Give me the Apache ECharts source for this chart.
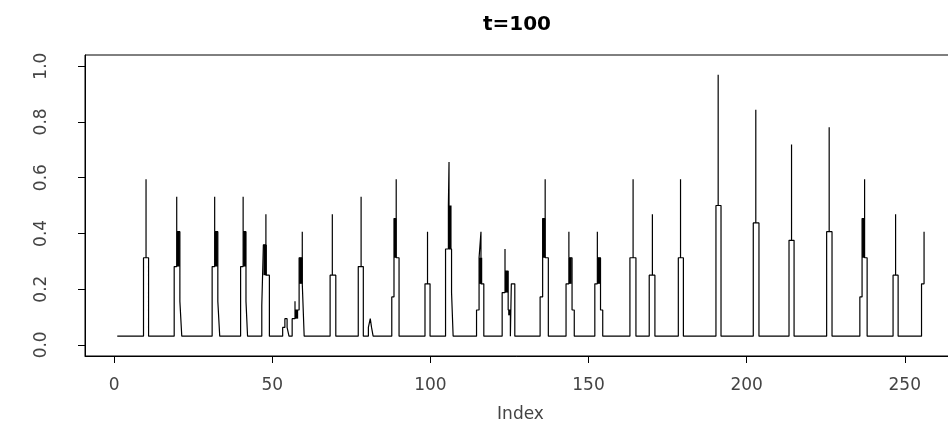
<!DOCTYPE html>
<html>
<head>
<meta charset="utf-8">
<script src="https://cdn.jsdelivr.net/npm/echarts@6/dist/echarts.min.js"></script>
<style>
  html, body { margin: 0; padding: 0; background: #fff; }
  #chart { width: 948px; height: 430px; }
</style>
</head>
<body>
<div id="chart"></div>
<script>
// Step trace at t=100: each vertex is (Index, level held from that Index onward)
const baseLevel = 0.031;
const stepIndex = [
  1,
  9.3, 10.1, 10.1, 10.9,
  19.0, 19.8, 19.8, 20.8, 21.4,
  31.0, 31.8, 31.8, 32.8, 33.4,
  40.0, 40.8, 40.8, 41.7, 42.2,
  46.7, 47.2, 48.0, 48.0, 49.1,
  53.3, 54.0, 54.7, 55.3,
  56.3, 57.2, 57.2, 58.5, 59.5, 59.5, 60.1,
  68.3, 69.0, 69.0, 70.1,
  77.2, 78.1, 78.1, 78.8,
  80.4, 81.0, 81.4, 81.9,
  87.8, 88.5, 89.2, 89.2, 90.1,
  98.3, 99.1, 99.1, 99.9,
  104.8, 105.7, 105.9, 105.9, 106.7, 107.2,
  114.6, 115.4, 116.0, 116.0, 116.9,
  122.7, 123.6, 123.6, 124.6, 125.3, 125.6, 126.7,
  134.7, 135.5, 136.3, 136.3, 137.3,
  142.9, 143.8, 143.8, 144.8, 145.5,
  152.0, 152.8, 152.8, 153.8, 154.5,
  163.1, 164.1, 164.1, 165.0,
  169.2, 170.2, 170.2, 171.0,
  178.4, 179.1, 179.1, 180.0,
  190.3, 191.0, 191.0, 191.9,
  202.1, 202.9, 202.9, 203.9,
  213.4, 214.2, 214.2, 215.0,
  225.3, 226.1, 226.1, 227.0,
  235.8, 236.5, 237.3, 237.3, 238.1,
  246.3, 247.1, 247.1, 247.9,
  255.3, 256.1
];
const B = baseLevel;
const stepLevel = [
  B,
  0.3125, 0.594, 0.3125, B,
  0.281, 0.531, 0.406, 0.156, B,
  0.281, 0.531, 0.406, 0.156, B,
  0.281, 0.531, 0.406, 0.156, B,
  0.14, 0.359, 0.469, 0.25, B,
  0.0625, 0.094, 0.0625, B,
  0.094, 0.156, 0.125, 0.3125, 0.406, 0.219, B,
  0.25, 0.469, 0.25, B,
  0.281, 0.531, 0.281, B,
  0.0625, 0.094, 0.0625, B,
  0.172, 0.453, 0.594, 0.3125, B,
  0.219, 0.406, 0.219, B,
  0.344, 0.5, 0.656, 0.344, 0.1875, B,
  0.125, 0.3125, 0.406, 0.219, B,
  0.1875, 0.344, 0.265, 0.125, B, 0.219, B,
  0.172, 0.453, 0.594, 0.3125, B,
  0.219, 0.406, 0.3125, 0.125, B,
  0.219, 0.406, 0.3125, 0.125, B,
  0.3125, 0.594, 0.3125, B,
  0.25, 0.469, 0.25, B,
  0.3125, 0.594, 0.3125, B,
  0.5, 0.969, 0.5, B,
  0.4375, 0.844, 0.4375, B,
  0.375, 0.719, 0.375, B,
  0.406, 0.781, 0.406, B,
  0.172, 0.453, 0.594, 0.3125, B,
  0.25, 0.469, 0.25, B,
  0.219, 0.406
];

// Stretches where the trace flips between two levels too fast to separate
const denseFrom = [19.8, 31.8, 40.8, 47.2, 57.2, 58.5, 88.5, 105.7, 115.4, 123.6, 124.6, 135.5, 143.8, 152.8, 236.5];
const denseTo   = [20.8, 32.8, 41.7, 48.3, 58.2, 59.6, 89.3, 106.7, 116.4, 124.6, 125.3, 136.4, 144.7, 153.8, 237.4];
const denseLow  = [0.281, 0.281, 0.281, 0.25, 0.094, 0.219, 0.3125, 0.344, 0.219, 0.1875, 0.106, 0.3125, 0.219, 0.219, 0.3125];
const denseHigh = [0.406, 0.406, 0.406, 0.359, 0.125, 0.3125, 0.453, 0.5, 0.3125, 0.265, 0.125, 0.453, 0.3125, 0.3125, 0.453];

const xTicks = [0, 50, 100, 150, 200, 250];
const yTicks = [0, 0.2, 0.4, 0.6, 0.8, 1.0];

const stepData = stepIndex.map((x, i) => [x, stepLevel[i]]);
const denseData = denseFrom.map((x, i) => [x, denseTo[i], denseLow[i], denseHigh[i]]);

const labelFont = 'DejaVu Sans, Liberation Sans, Arial, sans-serif';
const chart = echarts.init(document.getElementById('chart'), null, { renderer: 'canvas' });

chart.setOption({
  animation: false,
  backgroundColor: '#ffffff',
  title: {
    text: 't=100',
    left: 512,
    top: 10,
    textAlign: 'center',
    textStyle: { fontFamily: labelFont, fontSize: 20, fontWeight: 'bold', color: '#000' }
  },
  grid: {
    left: 85, top: 55, width: 871, height: 301,
    outerBoundsMode: 'none',
    containLabel: false,
    show: true, borderColor: '#000', borderWidth: 1, backgroundColor: 'transparent'
  },
  xAxis: {
    type: 'value',
    min: -9.2, max: 266.2,
    name: 'Index',
    nameLocation: 'middle',
    nameGap: 50,
    nameTextStyle: { fontFamily: labelFont, fontSize: 17, color: '#444' },
    axisLine: { show: true, onZero: false, lineStyle: { color: '#000', width: 1 } },
    axisTick: { show: true, customValues: xTicks, length: 7, inside: false, lineStyle: { color: '#000' } },
    axisLabel: { show: true, customValues: xTicks, margin: 21, fontFamily: labelFont, fontSize: 17, color: '#444' },
    splitLine: { show: false }
  },
  yAxis: {
    type: 'value',
    min: -0.04, max: 1.04,
    axisLine: { show: true, onZero: false, lineStyle: { color: '#000', width: 1 } },
    axisTick: { show: true, customValues: yTicks, length: 7, lineStyle: { color: '#000' } },
    axisLabel: {
      show: true, customValues: yTicks, rotate: 90, margin: 35,
      fontFamily: labelFont, fontSize: 17, color: '#444',
      formatter: v => v.toFixed(1)
    },
    splitLine: { show: false }
  },
  series: [
    {
      type: 'line',
      data: stepData,
      step: 'end',
      showSymbol: false,
      symbol: 'none',
      lineStyle: { color: '#000', width: 1.2 },
      clip: true,
      z: 3
    },
    {
      type: 'custom',
      data: denseData,
      renderItem: (params, api) => {
        const p0 = api.coord([api.value(0), api.value(3)]);
        const p1 = api.coord([api.value(1), api.value(2)]);
        return {
          type: 'rect',
          shape: { x: p0[0], y: p0[1], width: p1[0] - p0[0], height: p1[1] - p0[1] },
          style: { fill: '#000' }
        };
      },
      z: 4
    }
  ]
});
</script>
</body>
</html>
